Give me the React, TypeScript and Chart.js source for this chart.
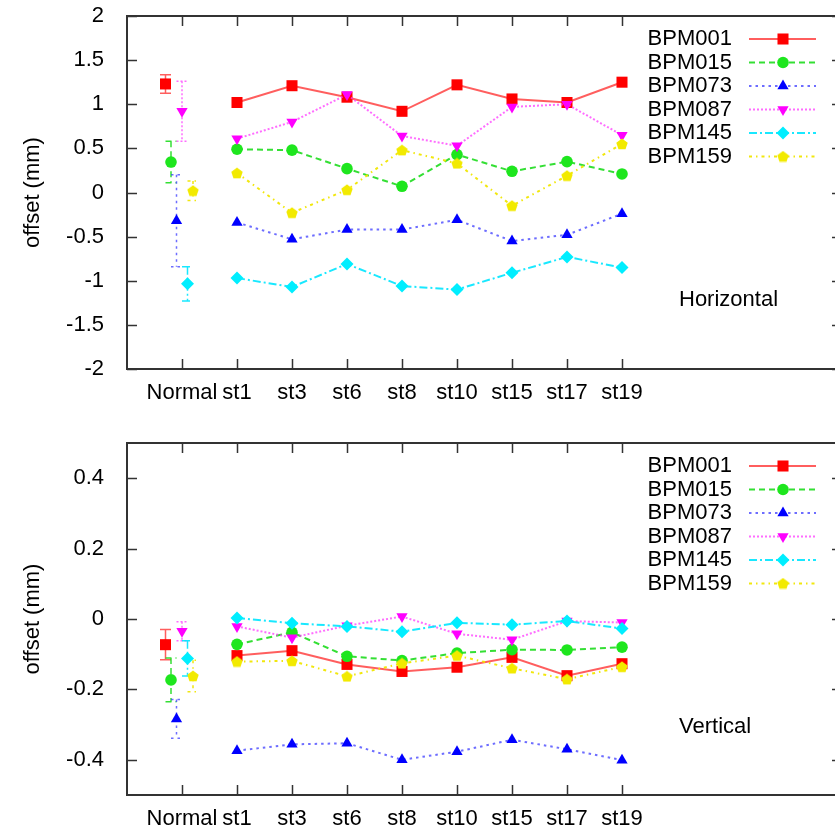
import React, { useEffect, useRef } from 'react';
import { Chart, registerables } from 'chart.js';
import { drawPoint } from 'chart.js/helpers';

Chart.register(...registerables);

// ---------- data ----------
const categories = ['Normal', 'st1', 'st3', 'st6', 'st8', 'st10', 'st15', 'st17', 'st19'];
const seriesNames = ['BPM001', 'BPM015', 'BPM073', 'BPM087', 'BPM145', 'BPM159'];

const yTicksH = [-2, -1.5, -1, -0.5, 0, 0.5, 1, 1.5, 2];
const yTicksV = [-0.4, -0.2, 0, 0.2, 0.4];

// Horizontal offsets (st1 .. st19)
const bpm001H = [1.02, 1.21, 1.08, 0.92, 1.22, 1.06, 1.02, 1.25];
const bpm015H = [0.49, 0.48, 0.27, 0.07, 0.43, 0.24, 0.35, 0.21];
const bpm073H = [-0.34, -0.53, -0.42, -0.42, -0.31, -0.55, -0.48, -0.24];
const bpm087H = [0.61, 0.8, 1.11, 0.64, 0.53, 0.97, 1.0, 0.65];
const bpm145H = [-0.97, -1.07, -0.81, -1.06, -1.1, -0.91, -0.73, -0.85];
const bpm159H = [0.22, -0.23, 0.03, 0.48, 0.33, -0.15, 0.19, 0.55];
// Normal values and errors (BPM001..BPM159)
const normalH = [1.23, 0.345, -0.32, 0.92, -1.035, 0.02];
const normalErrH = [0.105, 0.235, 0.52, 0.34, 0.195, 0.11];

// Vertical offsets (st1 .. st19)
const bpm001V = [-0.104, -0.09, -0.129, -0.149, -0.137, -0.109, -0.161, -0.127];
const bpm015V = [-0.072, -0.038, -0.106, -0.118, -0.097, -0.087, -0.088, -0.08];
const bpm073V = [-0.374, -0.356, -0.353, -0.4, -0.377, -0.343, -0.37, -0.401];
const bpm087V = [-0.021, -0.053, -0.019, 0.007, -0.042, -0.059, -0.006, -0.01];
const bpm145V = [0.003, -0.012, -0.021, -0.036, -0.011, -0.016, -0.006, -0.027];
const bpm159V = [-0.121, -0.119, -0.163, -0.126, -0.104, -0.14, -0.171, -0.136];
const normalV = [-0.073, -0.173, -0.284, -0.035, -0.112, -0.162];
const normalErrV = [0.043, 0.062, 0.055, 0.027, 0.05, 0.045];

// small horizontal shift of each series' Normal point around the Normal tick
const normalShift = [-0.3, -0.2, -0.1, 0, 0.1, 0.2];

// ---------- styles ----------
const FONT = "'Liberation Sans', Arial, Helvetica, sans-serif";
const FONT_SIZE = 22;
const FRAME = '#333333';

function makePentagon(color: string, size: number) {
  const c = document.createElement('canvas');
  c.width = size;
  c.height = size;
  const g = c.getContext('2d')!;
  const r = size / 2;
  g.fillStyle = color;
  g.beginPath();
  for (let k = 0; k < 5; k++) {
    const a = -Math.PI / 2 + (k * 2 * Math.PI) / 5;
    const px = r + r * Math.cos(a);
    const py = r + 0.5 + r * Math.sin(a);
    if (k === 0) g.moveTo(px, py);
    else g.lineTo(px, py);
  }
  g.closePath();
  g.fill();
  return c;
}

function seriesStyles() {
  return [
    { color: '#ff0000', line: 'rgba(255,40,40,0.75)', dash: [] as number[], pointStyle: 'rect' as any, radius: 7.8, rotation: 0 },
    { color: '#1ee61e', line: 'rgba(30,220,30,0.9)', dash: [6, 4], pointStyle: 'circle' as any, radius: 5.8, rotation: 0 },
    { color: '#0000ff', line: 'rgba(60,60,255,0.75)', dash: [2.5, 4], pointStyle: 'triangle' as any, radius: 6.5, rotation: 0 },
    { color: '#ff00ff', line: 'rgba(255,60,255,0.75)', dash: [2, 2], pointStyle: 'triangle' as any, radius: 6.5, rotation: 180 },
    { color: '#00eeff', line: 'rgba(0,230,255,0.9)', dash: [8, 3, 2, 3], pointStyle: 'rectRot' as any, radius: 6.5, rotation: 0 },
    { color: '#f2ea00', line: 'rgba(240,230,0,0.95)', dash: [3, 4, 1.5, 4], pointStyle: makePentagon('#f2ea00', 12) as any, radius: 6, rotation: 0 },
  ];
}

const gnuPlugin = {
  id: 'gnu',
  beforeDatasetsDraw(chart: any, _args: any, opts: any) {
    const { ctx, chartArea, scales } = chart;
    const xs = scales.x;
    const ys = scales.y;
    ctx.save();
    // frame
    ctx.strokeStyle = FRAME;
    ctx.lineWidth = 2;
    ctx.setLineDash([]);
    ctx.strokeRect(chartArea.left, chartArea.top, chartArea.right - chartArea.left, chartArea.bottom - chartArea.top);
    ctx.lineWidth = 1.5;
    ctx.beginPath();
    categories.forEach((_, i) => {
      const px = Math.round(xs.getPixelForValue(i)) + 0.5;
      ctx.moveTo(px, chartArea.bottom);
      ctx.lineTo(px, chartArea.bottom - 10);
      ctx.moveTo(px, chartArea.top);
      ctx.lineTo(px, chartArea.top + 10);
    });
    (opts.yTicks as number[]).forEach((v) => {
      const py = Math.round(ys.getPixelForValue(v)) + 0.5;
      ctx.moveTo(chartArea.left, py);
      ctx.lineTo(chartArea.left + 10, py);
      ctx.moveTo(chartArea.right, py);
      ctx.lineTo(chartArea.right - 10, py);
    });
    ctx.stroke();

    // error bars for the Normal points
    chart.data.datasets.forEach((ds: any) => {
      if (ds.err === undefined) return;
      const pt = ds.data[0];
      const px = xs.getPixelForValue(pt.x);
      const yTop = ys.getPixelForValue(pt.y + ds.err);
      const yBot = ys.getPixelForValue(pt.y - ds.err);
      ctx.strokeStyle = ds.borderColor;
      ctx.lineWidth = 1.5;
      ctx.setLineDash(ds.errDash);
      ctx.beginPath();
      ctx.moveTo(px, yTop);
      ctx.lineTo(px, yBot);
      ctx.moveTo(px - 5.5, yTop);
      ctx.lineTo(px + 5.5, yTop);
      ctx.moveTo(px - 5.5, yBot);
      ctx.lineTo(px + 5.5, yBot);
      ctx.stroke();
    });
    ctx.restore();
  },
  afterDraw(chart: any, _args: any, opts: any) {
    const { ctx, chartArea } = chart;
    ctx.save();
    const right = chartArea.right;
    const lines = chart.data.datasets.filter((d: any) => d.err === undefined);
    lines.forEach((ds: any, i: number) => {
      const y = chartArea.top + 23 + i * 23.5;
      ctx.font = `${FONT_SIZE}px ${FONT}`;
      ctx.fillStyle = '#000';
      ctx.textAlign = 'right';
      ctx.textBaseline = 'middle';
      ctx.fillText(ds.label, right - 110, y);
      ctx.strokeStyle = ds.borderColor;
      ctx.lineWidth = 2;
      ctx.setLineDash(ds.borderDash || []);
      ctx.beginPath();
      ctx.moveTo(right - 93, y);
      ctx.lineTo(right - 26, y);
      ctx.stroke();
      ctx.setLineDash([]);
      ctx.fillStyle = ds.pointBackgroundColor;
      ctx.strokeStyle = ds.pointBackgroundColor;
      drawPoint(ctx, { pointStyle: ds.pointStyle, rotation: ds.pointRotation, radius: ds.pointRadius, borderWidth: 0 } as any, right - 59, y);
    });
    ctx.font = `${FONT_SIZE}px ${FONT}`;
    ctx.fillStyle = '#000';
    ctx.textAlign = 'left';
    ctx.textBaseline = 'middle';
    ctx.fillText(opts.label, 679, chartArea.top + 284);
    ctx.restore();
  },
};

function buildConfig(
  values: number[][],
  normal: number[],
  normalErr: number[],
  yMin: number,
  yMax: number,
  yTicks: number[],
  label: string,
  padTop: number,
  xAxisHeight: number
) {
  const st = seriesStyles();
  const datasets: any[] = [];
  seriesNames.forEach((name, i) => {
    const s = st[i];
    datasets.push({
      type: 'line',
      label: name,
      data: values[i].map((v, j) => ({ x: j + 1, y: v })),
      borderColor: s.line,
      borderDash: s.dash,
      borderWidth: 2,
      pointStyle: s.pointStyle,
      pointRotation: s.rotation,
      pointRadius: s.radius,
      pointBackgroundColor: s.color,
      pointBorderColor: s.color,
      pointBorderWidth: 0,
      fill: false,
      tension: 0,
      order: 20 - i,
    });
    datasets.push({
      type: 'line',
      label: name + ' Normal',
      showLine: false,
      data: [{ x: normalShift[i], y: normal[i] }],
      err: normalErr[i],
      errDash: s.dash,
      borderColor: s.line,
      pointStyle: s.pointStyle,
      pointRotation: s.rotation,
      pointRadius: s.radius,
      pointBackgroundColor: s.color,
      pointBorderColor: s.color,
      pointBorderWidth: 0,
      order: 20 - i,
    });
  });

  return {
    type: 'line' as const,
    data: { datasets },
    plugins: [gnuPlugin],
    options: {
      animation: false as const,
      responsive: false,
      events: [],
      layout: { padding: { top: padTop, right: 8, left: 0, bottom: 0 } },
      plugins: {
        legend: { display: false },
        tooltip: { enabled: false },
        gnu: { yTicks, label },
      },
      scales: {
        x: {
          type: 'linear' as const,
          min: -1,
          max: 12,
          grid: { display: false },
          border: { display: false },
          afterBuildTicks: (s: any) => {
            s.ticks = categories.map((_, i) => ({ value: i }));
          },
          afterFit: (s: any) => {
            s.height = xAxisHeight;
            s.paddingLeft = 0;
            s.paddingRight = 0;
          },
          ticks: {
            autoSkip: false,
            maxRotation: 0,
            minRotation: 0,
            padding: 3,
            color: '#000',
            font: { family: FONT, size: FONT_SIZE },
            callback: (v: any) => categories[v] ?? '',
          },
        },
        y: {
          type: 'linear' as const,
          min: yMin,
          max: yMax,
          grid: { display: false },
          border: { display: false },
          afterBuildTicks: (s: any) => {
            s.ticks = yTicks.map((v) => ({ value: v }));
          },
          afterFit: (s: any) => {
            s.width = 127;
            s.paddingTop = 0;
            s.paddingBottom = 0;
          },
          ticks: {
            padding: 15,
            color: '#000',
            font: { family: FONT, size: FONT_SIZE },
            callback: (v: any) => String(Math.round(v * 100) / 100),
          },
          title: {
            display: true,
            text: 'offset (mm)',
            color: '#000',
            font: { family: FONT, size: FONT_SIZE },
            padding: { top: 20, bottom: 0 },
          },
        },
      },
    },
  };
}

function Panel(props: { cfg: () => any; height: number; top: number }) {
  const ref = useRef<HTMLCanvasElement>(null);
  useEffect(() => {
    const chart = new Chart(ref.current!, props.cfg());
    return () => chart.destroy();
  }, []);
  return (
    <canvas
      ref={ref}
      width={850}
      height={props.height}
      style={{ position: 'absolute', left: 0, top: props.top, width: 850, height: props.height, display: 'block' }}
    />
  );
}

export default function App() {
  useEffect(() => {
    document.body.style.margin = '0';
    document.body.style.overflow = 'hidden';
  }, []);
  return (
    <div style={{ position: 'fixed', left: 0, top: 0, width: 850, height: 829, overflow: 'hidden', background: '#fff' }}>
      <Panel
        top={0}
        height={415}
        cfg={() =>
          buildConfig(
            [bpm001H, bpm015H, bpm073H, bpm087H, bpm145H, bpm159H],
            normalH,
            normalErrH,
            -2,
            2,
            yTicksH,
            'Horizontal',
            16,
            46
          )
        }
      />
      <Panel
        top={415}
        height={414}
        cfg={() =>
          buildConfig(
            [bpm001V, bpm015V, bpm073V, bpm087V, bpm145V, bpm159V],
            normalV,
            normalErrV,
            -0.5,
            0.5,
            yTicksV,
            'Vertical',
            28,
            34
          )
        }
      />
    </div>
  );
}
